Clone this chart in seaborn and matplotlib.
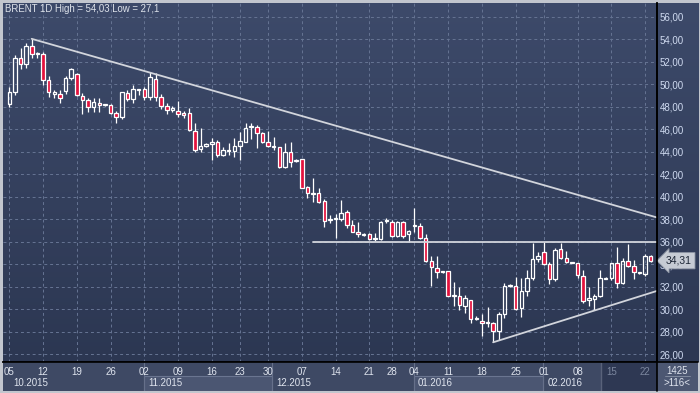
import numpy as np
import pandas as pd
import matplotlib
matplotlib.use("Agg")
import matplotlib.pyplot as plt
import matplotlib.transforms as mtransforms
from matplotlib.colors import LinearSegmentedColormap
from matplotlib.patches import Rectangle
import seaborn as sns

# daily OHLC, BRENT, 05.10.2015 .. 23.02.2016
opens = [48.24, 49.34, 52.30, 51.80, 53.43, 52.65, 52.65, 50.37, 49.10, 49.10,
         49.43, 50.52, 50.91, 48.98, 48.60, 48.00, 48.36, 48.15, 48.12, 47.41,
         47.05, 49.25, 48.68, 49.50, 49.54, 48.83, 50.46, 48.83, 48.09, 47.71,
         47.65, 47.41, 47.47, 45.87, 44.24, 44.54, 44.65, 44.89, 43.71, 44.06,
         44.09, 44.54, 44.89, 46.17, 46.23, 45.63, 44.89, 44.54, 44.39, 42.67,
         43.94, 43.17, 43.32, 40.83, 40.27, 40.30, 39.62, 37.93, 37.99, 38.05,
         38.61, 37.46, 36.89, 36.60, 36.66, 36.21, 36.21, 37.84, 37.78, 36.54,
         37.78, 36.66, 37.40, 37.40, 36.30, 34.31, 33.69, 33.28, 33.40, 31.17,
         31.20, 30.31, 30.82, 29.10, 28.95, 28.74, 28.80, 28.09, 29.54, 32.03,
         32.09, 30.07, 31.62, 32.74, 34.43, 35.05, 33.99, 32.66, 35.32, 34.52,
         34.11, 34.08, 32.95, 30.82, 30.88, 31.20, 32.69, 32.74, 34.08, 32.30,
         34.31, 33.84, 33.19, 33.13, 34.73]
highs = [49.72, 52.59, 53.19, 53.63, 54.03, 52.89, 52.89, 50.73, 49.48, 49.48,
         50.73, 51.41, 50.97, 49.19, 48.74, 48.80, 48.74, 48.24, 48.21, 47.62,
         49.34, 49.48, 49.93, 49.56, 49.78, 51.11, 51.03, 49.13, 48.30, 48.06,
         48.51, 47.62, 47.85, 46.52, 46.08, 44.74, 45.19, 45.04, 44.45, 44.74,
         45.19, 45.78, 46.52, 46.52, 46.37, 45.78, 45.84, 45.34, 44.45, 44.74,
         44.89, 43.32, 43.35, 40.95, 41.63, 40.74, 39.80, 38.37, 38.46, 39.71,
         38.79, 37.93, 37.72, 36.80, 36.80, 36.80, 37.87, 38.08, 37.93, 37.87,
         37.84, 37.04, 38.97, 37.63, 36.65, 34.73, 34.73, 33.40, 33.43, 32.39,
         32.00, 31.26, 30.85, 29.40, 29.54, 30.22, 28.83, 29.78, 32.30, 32.24,
         32.83, 32.78, 33.48, 35.91, 35.11, 36.00, 34.23, 35.41, 35.85, 35.20,
         34.23, 34.14, 33.48, 32.00, 31.35, 33.48, 32.89, 34.14, 35.50, 34.52,
         35.80, 34.37, 33.34, 34.91, 34.82]
lows = [47.94, 49.04, 51.32, 51.41, 52.30, 52.30, 49.93, 48.89, 48.74, 48.36,
        49.10, 50.37, 48.95, 47.32, 47.56, 47.56, 47.56, 48.06, 47.32, 46.52,
        46.88, 48.51, 48.36, 49.04, 48.60, 48.60, 48.51, 47.77, 47.32, 47.50,
        47.05, 47.02, 45.87, 44.00, 44.00, 44.45, 43.26, 43.56, 43.65, 43.71,
        43.56, 43.26, 44.83, 45.10, 44.30, 44.74, 44.45, 44.15, 42.52, 42.52,
        42.67, 43.11, 40.74, 39.86, 39.56, 39.47, 37.34, 37.63, 36.36, 37.87,
        37.19, 36.82, 36.45, 36.54, 36.15, 36.06, 36.15, 37.63, 36.45, 36.45,
        36.36, 36.00, 36.89, 36.21, 34.23, 32.06, 32.74, 33.25, 31.17, 30.28,
        29.93, 29.69, 28.80, 29.04, 27.62, 28.45, 27.06, 27.26, 29.25, 31.94,
        29.93, 29.34, 31.20, 32.60, 34.23, 33.93, 32.21, 32.54, 34.43, 34.08,
        34.08, 32.74, 30.58, 30.28, 29.93, 31.11, 32.66, 32.60, 31.85, 32.24,
        33.78, 32.66, 33.13, 32.98, 34.23]
closes = [49.34, 52.30, 51.80, 53.43, 52.68, 52.74, 50.37, 49.28, 49.28, 48.74,
          50.52, 51.32, 49.04, 48.60, 47.94, 48.39, 48.12, 48.17, 47.41, 47.05,
          49.28, 48.68, 49.54, 49.54, 48.83, 50.61, 48.83, 48.09, 47.71, 47.88,
          47.35, 47.26, 45.93, 44.15, 44.54, 44.65, 44.89, 43.71, 44.15, 44.18,
          44.54, 44.98, 46.08, 46.28, 45.63, 44.89, 44.54, 44.39, 42.67, 43.94,
          43.11, 43.26, 40.80, 40.30, 40.33, 39.56, 37.87, 38.02, 38.08, 38.52,
          37.46, 36.89, 36.67, 36.68, 36.21, 36.24, 37.78, 37.93, 36.54, 37.78,
          36.54, 36.98, 37.49, 36.30, 34.31, 33.72, 33.34, 33.37, 31.20, 31.23,
          30.37, 30.97, 29.10, 29.25, 28.74, 28.83, 28.09, 29.54, 32.09, 32.09,
          30.00, 31.62, 32.74, 34.43, 34.73, 33.99, 32.66, 35.26, 34.52, 34.17,
          34.17, 33.04, 30.73, 30.97, 31.20, 32.74, 32.74, 34.08, 32.30, 34.31,
          33.84, 33.28, 33.28, 34.73, 34.31]

# bar index of each weekly date label
day_ticks = [0, 6, 12, 18, 24, 30, 36, 41, 46, 52, 58, 64, 68, 72, 78, 84, 90, 95, 101, 107, 113]
day_labels = ["05", "12", "19", "26", "02", "09", "16", "23", "30", "07", "14",
              "21", "28", "04", "11", "18", "25", "01", "08", "15", "22"]
month_labels = ["10.2015", "11.2015", "12.2015", "01.2016", "02.2016"]
month_starts = [-1.17, 24.0, 46.7, 71.9, 94.9]
month_end = 105.1

# trend lines (bar index, price)
trend_x = [[3.98, 115.07], [53.9, 115.07], [86.0, 115.07]]
trend_y = [[54.03, 38.16], [36.0, 36.0], [27.06, 31.62]]

last_price = 34.31

W, H = 700, 393
XMIN, XMAX = -1.17, 115.07
YMIN, YMAX = 25.31, 57.24

sns.set_theme(style="dark")
plt.rcParams["font.family"] = ["Liberation Sans", "DejaVu Sans"]


def frac(x0, y0, x1, y1):
    return [x0 / W, 1 - y1 / H, (x1 - x0) / W, (y1 - y0) / H]


fig = plt.figure(figsize=(7, 3.93), dpi=100, facecolor="#c2c6ce")

# gradient background behind plot + price scale
bg = fig.add_axes(frac(2.7, 2.7, 698, 362), zorder=0)
cmap = LinearSegmentedColormap.from_list("bg", ["#2c3752", "#3d4a6a"])
bg.imshow(np.linspace(0, 1, 256)[::-1, None], aspect="auto", cmap=cmap,
          extent=[0, 1, 0, 1], origin="upper")
bg.axis("off")

ax = fig.add_axes(frac(2.7, 2.7, 656.7, 362), zorder=1)
ax.patch.set_alpha(0)

df = pd.DataFrame({"open": opens, "high": highs, "low": lows, "close": closes})
df["i"] = np.arange(len(df))
up = df["close"] >= df["open"]
lo = df[["open", "close"]].min(axis=1)
hi = df[["open", "close"]].max(axis=1)
h = np.maximum(hi - lo, 0.08)

ax.vlines(df["i"], df["low"], lo, color="white", lw=0.9, zorder=3)
ax.vlines(df["i"], hi, df["high"], color="white", lw=0.9, zorder=3)
ax.bar(df["i"][up], h[up], bottom=lo[up], width=0.62, facecolor="none",
       edgecolor="white", lw=0.9, zorder=4)
ax.bar(df["i"][~up], h[~up], bottom=lo[~up], width=0.62, facecolor="#e3123d",
       edgecolor="white", lw=0.9, zorder=4)

for tx, ty in zip(trend_x, trend_y):
    sns.lineplot(x=tx, y=ty, ax=ax, color="#d2d5dc", lw=1.3, zorder=5, legend=False)

ax.set_xlim(XMIN, XMAX)
ax.set_ylim(YMIN, YMAX)
ax.set_xticks(day_ticks)
ax.set_xticklabels([])
yt = np.arange(26, 57, 2)
ax.set_yticks(yt)
ax.set_yticklabels([f"{v:.2f}".replace(".", ",") for v in yt])
ax.yaxis.tick_right()
ax.tick_params(axis="both", length=0)
ax.tick_params(axis="y", pad=2, labelsize=7, labelcolor="#cfdaf0")
ax.grid(True, color="#667493", lw=0.7, linestyle=(0, (3, 3)))
for s in ["left", "top"]:
    ax.spines[s].set_visible(False)
for s in ["right", "bottom"]:
    ax.spines[s].set_color("black")
    ax.spines[s].set_linewidth(1.2)
ax.set_xlabel("")
ax.set_ylabel("")

# current price tag, drawn over the scale label it covers
trans = mtransforms.blended_transform_factory(ax.transAxes, ax.transData)
ax.text(1.014, last_price, f"{last_price:.2f}".replace(".", ","), transform=trans,
        fontsize=7.5, color="#1c2535", va="center", ha="left", clip_on=False, zorder=6,
        bbox=dict(boxstyle="larrow,pad=0.3", fc="#c6cbd4", ec="#8f97a6", lw=0.6))

fig.text(5 / W, 1 - 9 / H, "BRENT 1D High = 54,03 Low = 27,1", fontsize=6.9,
         color="#dde2ea", va="center", ha="left")

# date strip
bx = fig.add_axes(frac(2.7, 362, 656.7, 390.5), zorder=1)
bx.set_facecolor("#3e4964")
bx.set_xlim(XMIN, XMAX)
bx.set_ylim(0, 1)
bx.set_xticks([])
bx.set_yticks([])
for s in bx.spines.values():
    s.set_visible(False)
bx.add_patch(Rectangle((month_end, 0), XMAX - month_end, 1, fc="#2e3853", ec="none"))
bx.vlines(month_end, 0, 1, color="#59627a", lw=1)
for k, (lab, x0) in enumerate(zip(month_labels, month_starts)):
    x1 = month_starts[k + 1] if k + 1 < len(month_starts) else month_end
    if k % 2 == 1:
        bx.add_patch(Rectangle((x0, 0), x1 - x0, 0.5, fc="#4b5672", ec="#6a7590", lw=0.8))
    if k > 0:
        bx.vlines(x0, 0, 1, color="#66708a", lw=0.8)
    tx = 0.8 if k == 0 else x0 + 0.7
    bx.text(tx, 0.28, lab, fontsize=7, color="#dfe4ee", va="center", ha="left")
for t, lab in zip(day_ticks, day_labels):
    c = "#7c879f" if t > month_end else "#dfe4ee"
    bx.text(t, 0.66, lab, fontsize=7, color=c, va="center", ha="center")

# bottom-right corner box
cx = fig.add_axes(frac(656.7, 362, 698, 390.5), zorder=1)
cx.set_facecolor("#4c5772")
cx.set_xticks([])
cx.set_yticks([])
for s in cx.spines.values():
    s.set_visible(False)
cx.text(0.5, 0.70, "1425", fontsize=7, color="#dfe4ee", ha="center", va="center")
cx.text(0.5, 0.27, ">116<", fontsize=7, color="#dfe4ee", ha="center", va="center")
cx.plot([0.2, 0.8], [0.5, 0.5], color="#8a93a6", lw=0.6)
cx.set_xlim(0, 1)
cx.set_ylim(0, 1)

# black separators between panels
fig.add_artist(plt.Line2D([656.7 / W, 656.7 / W], [1 - 390.5 / H, 1 - 2.7 / H],
                          color="black", lw=1.2))
fig.add_artist(plt.Line2D([2.7 / W, 698 / W], [1 - 362 / H, 1 - 362 / H],
                          color="black", lw=1.2))

fig.savefig("out.png", dpi=100, facecolor=fig.get_facecolor())
